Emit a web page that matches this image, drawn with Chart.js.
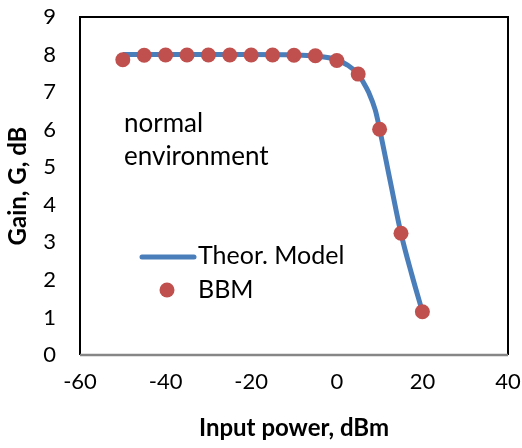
<!DOCTYPE html>
<html>
<head>
<meta charset="utf-8">
<script src="https://cdn.jsdelivr.net/npm/chart.js@4.4.0/dist/chart.umd.min.js"></script>
<style>
  html, body { margin: 0; padding: 0; background: #fff; }
  #wrap { width: 522px; height: 448px; }
</style>
</head>
<body>
<div id="wrap"><canvas id="myChart" width="522" height="448"></canvas></div>
<script>
// BBM simulation points
var bbmPower = [-50, -45, -40, -35, -30, -25, -20, -15, -10, -5, 0, 5, 10, 15, 20];
var bbmGain = [7.86, 7.98, 7.99, 7.99, 7.99, 7.99, 7.99, 7.99, 7.98, 7.97, 7.84, 7.48, 6.01, 3.24, 1.15];

// theoretical model curve
var theoryPower = [-50, -40, -30, -20, -10, -5, 0, 2.5, 5, 6, 7.5, 9, 10, 12.5, 15, 17.5, 20];
var theoryGain = [8.0, 8.0, 8.0, 8.0, 7.99, 7.96, 7.86, 7.72, 7.48, 7.3, 6.98, 6.52, 6.02, 4.62, 3.24, 2.15, 1.15];

var xTicks = [-60, -40, -20, 0, 20, 40];
var yTicks = [0, 1, 2, 3, 4, 5, 6, 7, 8, 9];

var seriesNames = ["Theor. Model", "BBM"];
var noteLines = ["normal", "environment"];

var FONT = "Lato, 'Open Sans', sans-serif";
var blue = "#4a7ebb";
var red = "#c0504d";

function toXY(xs, ys) {
  var out = [];
  for (var i = 0; i < xs.length; i++) out.push({ x: xs[i], y: ys[i] });
  return out;
}

// frame, annotation text and the legend inside the plot
var overlay = {
  id: "overlay",
  afterDraw: function (chart) {
    var ctx = chart.ctx;
    var a = chart.chartArea;
    ctx.save();
    ctx.lineWidth = 2;
    ctx.strokeStyle = "#000";
    ctx.beginPath();
    ctx.moveTo(a.left, a.bottom);
    ctx.lineTo(a.left, a.top);
    ctx.lineTo(a.right, a.top);
    ctx.lineTo(a.right, a.bottom);
    ctx.stroke();
    ctx.strokeStyle = "#868686";
    ctx.lineWidth = 2.5;
    ctx.beginPath();
    ctx.moveTo(a.left, a.bottom);
    ctx.lineTo(a.right, a.bottom);
    ctx.stroke();

    ctx.fillStyle = "#000";
    ctx.font = "26px " + FONT;
    ctx.textAlign = "left";
    ctx.textBaseline = "alphabetic";
    ctx.fillText(noteLines[0], 124, 132);
    ctx.fillText(noteLines[1], 124, 165);

    // legend
    var ds = chart.data.datasets;
    ctx.font = "25px " + FONT;
    ctx.textBaseline = "middle";
    ctx.strokeStyle = ds[0].borderColor;
    ctx.lineWidth = 5;
    ctx.lineCap = "round";
    ctx.beginPath();
    ctx.moveTo(142, 257);
    ctx.lineTo(194, 257);
    ctx.stroke();
    ctx.fillStyle = "#000";
    ctx.fillText(ds[0].label, 198, 256);
    ctx.fillStyle = ds[1].backgroundColor;
    ctx.beginPath();
    ctx.arc(167, 290, 7.5, 0, Math.PI * 2);
    ctx.fill();
    ctx.fillStyle = "#000";
    ctx.fillText(ds[1].label, 198, 290);
    ctx.restore();
  }
};

var ctx = document.getElementById("myChart").getContext("2d");
var chart = new Chart(ctx, {
  type: "scatter",
  data: {
    datasets: [{
      label: seriesNames[0],
      data: toXY(theoryPower, theoryGain),
      showLine: true,
      borderColor: blue,
      backgroundColor: blue,
      borderWidth: 5,
      pointRadius: 0,
      cubicInterpolationMode: "monotone",
      order: 2
    }, {
      label: seriesNames[1],
      data: toXY(bbmPower, bbmGain),
      showLine: false,
      backgroundColor: red,
      borderColor: red,
      borderWidth: 0,
      pointRadius: 7.5,
      order: 1
    }]
  },
  options: {
    responsive: false,
    animation: false,
    layout: { padding: { top: 17, right: 14, left: 0, bottom: 0 } },
    plugins: { legend: { display: false }, tooltip: { enabled: false } },
    scales: {
      x: {
        type: "linear",
        min: -60, max: 40,
        afterBuildTicks: function (s) { s.ticks = xTicks.map(function (v) { return { value: v }; }); },
        afterFit: function (s) { s.height = 93; s.paddingLeft = 0; s.paddingRight = 0; },
        grid: { display: false, drawTicks: false },
        border: { display: false },
        ticks: { color: "#000", padding: 14, font: { family: FONT, size: 22 } },
        title: {
          display: true, text: "Input power, dBm", color: "#000",
          padding: { top: 0, bottom: 5 },
          font: { family: FONT, size: 24, weight: "bold" }
        }
      },
      y: {
        min: 0, max: 9,
        afterBuildTicks: function (s) { s.ticks = yTicks.map(function (v) { return { value: v }; }); },
        afterFit: function (s) { s.width = 80; s.paddingTop = 0; s.paddingBottom = 0; },
        grid: { display: false, drawTicks: false },
        border: { display: false },
        ticks: { color: "#000", padding: 24, font: { family: FONT, size: 22 } },
        title: {
          display: true, text: "Gain, G, dB", color: "#000",
          padding: { top: 4, bottom: 0 },
          font: { family: FONT, size: 24, weight: "bold" }
        }
      }
    }
  },
  plugins: [overlay]
});
</script>
</body>
</html>
